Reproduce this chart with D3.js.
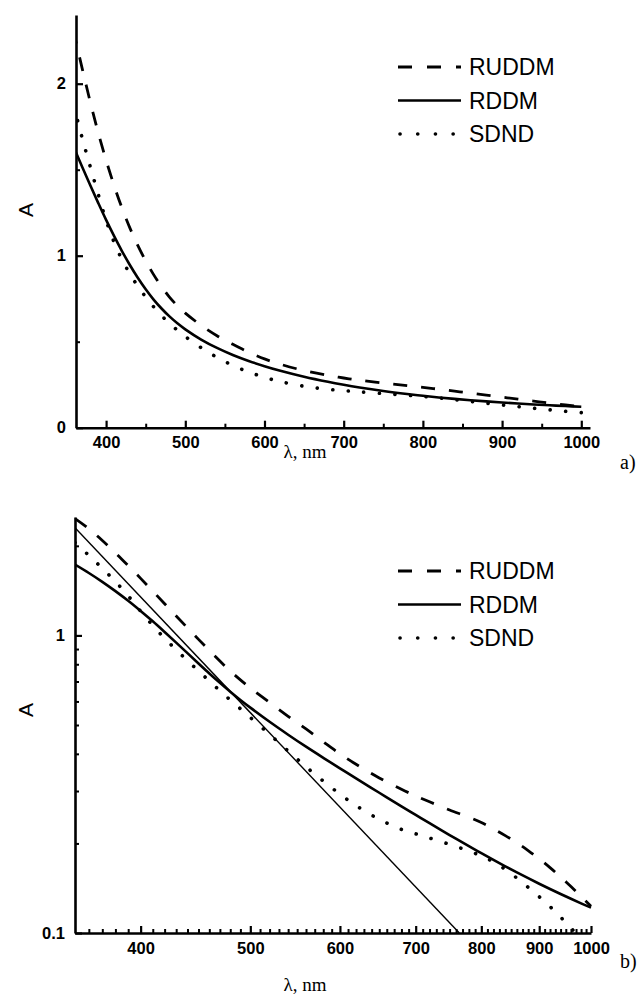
<!DOCTYPE html>
<html>
<head>
<meta charset="utf-8">
<script src="https://cdn.jsdelivr.net/npm/d3@7"></script>
<style>
  html, body { margin: 0; padding: 0; background: #fff; }
  svg { display: block; }
</style>
</head>
<body>
<svg id="chart" width="642" height="996"></svg>
<script>
// ---------------- DATA ----------------
const wavelengths = [350, 360, 370, 380, 390, 400, 410, 420, 430, 440, 450, 460, 470, 480, 490, 500,
  520, 540, 560, 580, 600, 620, 650, 680, 700, 720, 750, 780, 800, 820, 840, 860, 880, 900, 920, 940, 960, 980, 1000];

const ruddm = [2.47, 2.283, 2.085, 1.894, 1.716, 1.555, 1.409, 1.278, 1.162, 1.06, 0.97, 0.89, 0.82, 0.759, 0.709, 0.666,
  0.595, 0.535, 0.485, 0.439, 0.400, 0.369, 0.332, 0.304, 0.289, 0.276, 0.259, 0.245, 0.235, 0.2237, 0.2125, 0.201,
  0.1893, 0.1776, 0.1659, 0.1544, 0.1432, 0.1327, 0.1229];

const rddm = [1.73, 1.621, 1.514, 1.409, 1.307, 1.208, 1.115, 1.027, 0.946, 0.872, 0.805, 0.745, 0.693, 0.647, 0.607, 0.572,
  0.5125, 0.4638, 0.4227, 0.3879, 0.3576, 0.3308, 0.296, 0.2666, 0.2494, 0.2339, 0.2134, 0.1958, 0.1854, 0.176, 0.1675, 0.1598,
  0.1528, 0.1464, 0.1406, 0.1352, 0.1303, 0.1258, 0.1217];

const sdnd = [2.05, 1.858, 1.681, 1.517, 1.358, 1.205, 1.08, 0.978, 0.895, 0.823, 0.76, 0.703, 0.652, 0.607, 0.567, 0.53,
  0.465, 0.409, 0.362, 0.324, 0.293, 0.268, 0.241, 0.223, 0.2155, 0.2085, 0.1985, 0.1886, 0.1816, 0.1733, 0.1636, 0.153,
  0.1424, 0.1324, 0.1227, 0.1131, 0.104, 0.0953, 0.0874];

// power-law fit line (panel b)
const fitLambda = [350, 765];
const fitA = [2.30, 0.1];

const seriesNames = ["RUDDM", "RDDM", "SDND"];

const xTicksA = [400, 500, 600, 700, 800, 900, 1000];
const yTicksA = [0, 1, 2];
const xTicksB = [400, 500, 600, 700, 800, 900, 1000];
const yTicksB = [0.1, 1];

// ---------------- STYLES ----------------
const styles = {
  RUDDM: { dash: "14,14", width: 2.8, cap: "butt" },
  RDDM:  { dash: null,    width: 2.6, cap: "butt" },
  SDND:  { dash: "0.1,15.5", width: 3.6, cap: "round" }
};
const seriesData = { RUDDM: ruddm, RDDM: rddm, SDND: sdnd };

const svg = d3.select("#chart");
const tickFont = "'Liberation Sans', Arial, sans-serif";

function drawPanel(opts) {
  const { x, y, xMajor, xMinor, yMajor, yMinor, yFmt, id, extra, legendY } = opts;
  const g = svg.append("g");
  const [x0, x1] = x.range();
  const [y0, y1] = y.range();

  svg.append("clipPath").attr("id", id)
    .append("rect").attr("x", x0).attr("y", y1 - 2).attr("width", x1 - x0 + 2).attr("height", y0 - y1 + 2);

  const plot = g.append("g").attr("clip-path", `url(#${id})`);

  const line = d3.line()
    .x(d => x(d[0])).y(d => y(d[1]))
    .curve(d3.curveCatmullRom.alpha(0.5));

  seriesNames.forEach(name => {
    const pts = wavelengths.map((w, i) => [w, seriesData[name][i]]);
    const st = styles[name];
    plot.append("path")
      .datum(pts)
      .attr("d", line)
      .attr("fill", "none")
      .attr("stroke", "#000")
      .attr("stroke-width", st.width)
      .attr("stroke-linecap", st.cap)
      .attr("stroke-dasharray", st.dash);
  });

  if (extra) extra(plot);

  // minor ticks
  g.append("g").attr("transform", `translate(0,${y0})`)
    .call(d3.axisBottom(x).tickValues(xMinor).tickFormat("").tickSizeInner(-4).tickSizeOuter(0))
    .call(s => s.select(".domain").remove())
    .call(s => s.selectAll("line").attr("stroke-width", 2));
  g.append("g").attr("transform", `translate(${x0},0)`)
    .call(d3.axisLeft(y).tickValues(yMinor).tickFormat("").tickSizeInner(-4).tickSizeOuter(0))
    .call(s => s.select(".domain").remove())
    .call(s => s.selectAll("line").attr("stroke-width", 2));

  // major axes
  const xa = g.append("g").attr("transform", `translate(0,${y0})`)
    .call(d3.axisBottom(x).tickValues(xMajor).tickFormat(d3.format("d")).tickSizeInner(-7).tickSizeOuter(0).tickPadding(9));
  const ya = g.append("g").attr("transform", `translate(${x0},0)`)
    .call(d3.axisLeft(y).tickValues(yMajor).tickFormat(yFmt).tickSizeInner(-7).tickSizeOuter(0).tickPadding(10));
  [xa, ya].forEach(a => {
    a.select(".domain").attr("stroke-width", 2.6).attr("stroke", "#000");
    a.selectAll("line").attr("stroke-width", 2.2).attr("stroke", "#000");
    a.selectAll("text").attr("font-family", tickFont).attr("font-weight", "bold")
      .attr("font-size", 16.5).attr("fill", "#000");
  });

  // legend
  const lg = g.append("g");
  seriesNames.forEach((name, i) => {
    const cy = legendY + i * 33.5;
    const st = styles[name];
    lg.append("line").attr("x1", 398).attr("x2", 461).attr("y1", cy).attr("y2", cy)
      .attr("stroke", "#000").attr("stroke-width", st.width)
      .attr("stroke-linecap", st.cap)
      .attr("stroke-dasharray", name === "SDND" ? "0.1,17.6" : (name === "RUDDM" ? "14,15" : null))
      .attr("transform", name === "SDND" ? "translate(2,0)" : null);
    lg.append("text").attr("x", 469).attr("y", cy + 8.3)
      .attr("font-family", tickFont).attr("font-size", 23)
      .text(name);
  });
  return g;
}

// ---------------- PANEL A ----------------
const xA = d3.scaleLinear().domain([362, 1011]).range([76, 590]);
const yA = d3.scaleLinear().domain([0, 2.4]).range([427.7, 14.9]);

drawPanel({
  x: xA, y: yA, id: "clipA",
  xMajor: xTicksA,
  xMinor: d3.range(450, 1001, 100),
  yMajor: yTicksA,
  yMinor: [0.5, 1.5],
  yFmt: d3.format("d"),
  legendY: 67
});

// ---------------- PANEL B ----------------
const xB = d3.scaleLog().domain([350, 1000]).range([75, 591]);
const yB = d3.scaleLog().domain([0.1, 2.5]).range([933, 517]);

drawPanel({
  x: xB, y: yB, id: "clipB",
  xMajor: xTicksB,
  xMinor: d3.range(360, 1000, 10).filter(v => v % 100 !== 0),
  yMajor: yTicksB,
  yMinor: [0.2, 0.3, 0.4, 0.5, 0.6, 0.7, 0.8, 0.9, 2],
  yFmt: d => d === 1 ? "1" : "0.1",
  legendY: 571,
  extra: plot => {
    plot.append("path")
      .datum(fitLambda.map((w, i) => [w, fitA[i]]))
      .attr("d", d3.line().x(d => xB(d[0])).y(d => yB(d[1])))
      .attr("fill", "none").attr("stroke", "#000").attr("stroke-width", 1.4);
  }
});

// ---------------- LABELS ----------------
const serif = "'Liberation Serif', 'Times New Roman', serif";
[210, 710].forEach(cy => {
  svg.append("text").attr("transform", `translate(33,${cy}) rotate(-90)`)
    .attr("text-anchor", "middle").attr("font-family", tickFont).attr("font-size", 21).text("A");
});
svg.append("text").attr("x", 305).attr("y", 458).attr("text-anchor", "middle")
  .attr("font-family", serif).attr("font-size", 19).text("λ, nm");
svg.append("text").attr("x", 305).attr("y", 991).attr("text-anchor", "middle")
  .attr("font-family", serif).attr("font-size", 19).text("λ, nm");
svg.append("text").attr("x", 620).attr("y", 469)
  .attr("font-family", serif).attr("font-size", 20).text("a)");
svg.append("text").attr("x", 620).attr("y", 968)
  .attr("font-family", serif).attr("font-size", 20).text("b)");
</script>
</body>
</html>
